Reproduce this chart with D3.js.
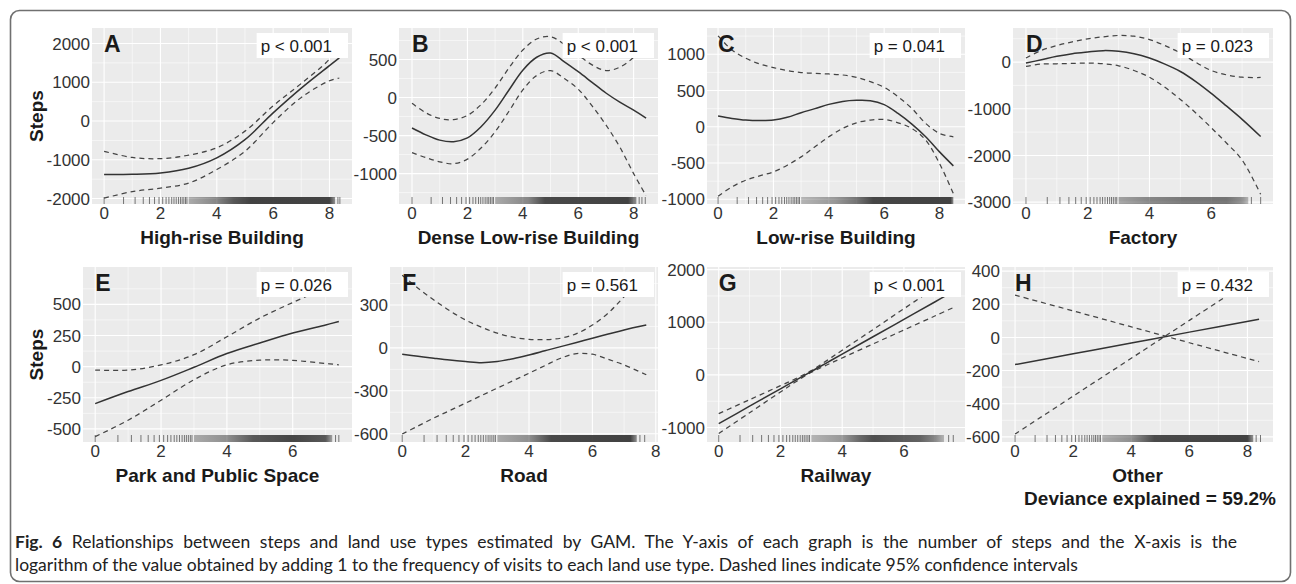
<!DOCTYPE html>
<html lang="en">
<head>
<meta charset="UTF-8">
<title>Fig. 6: steps vs land use (GAM)</title>
<script src="https://d3js.org/d3.v7.min.js"></script>
<style>
  body { margin: 0; background: #fff; }
  svg text { font-family: "Liberation Sans", Arial, sans-serif; }
</style>
</head>
<body>
<svg id="fig" width="1296" height="584"></svg>
<script>
// ---- labels ----
var letters = ["A", "B", "C", "D", "E", "F", "G", "H"];
var xTitles = ["High-rise Building", "Dense Low-rise Building", "Low-rise Building", "Factory",
    "Park and Public Space", "Road", "Railway", "Other"];
var pLabels = ["p < 0.001", "p < 0.001", "p = 0.041", "p = 0.023",
    "p = 0.026", "p = 0.561", "p < 0.001", "p = 0.432"];

// ---- ticks ----
var yTicksA = [-2000, -1000, 0, 1000, 2000], xTicksA = [0, 2, 4, 6, 8];
var yTicksB = [-1000, -500, 0, 500], xTicksB = [0, 2, 4, 6, 8];
var yTicksC = [-1000, -500, 0, 500, 1000], xTicksC = [0, 2, 4, 6, 8];
var yTicksD = [-3000, -2000, -1000, 0], xTicksD = [0, 2, 4, 6];
var yTicksE = [-500, -250, 0, 250, 500], xTicksE = [0, 2, 4, 6];
var yTicksF = [-600, -300, 0, 300], xTicksF = [0, 2, 4, 6, 8];
var yTicksG = [-1000, 0, 1000, 2000], xTicksG = [0, 2, 4, 6];
var yTicksH = [-600, -400, -200, 0, 200, 400], xTicksH = [0, 2, 4, 6, 8];

// ---- axis ranges ----
var xDomA = [-0.43, 8.8], yDomA = [-2140, 2400];
var xDomB = [-0.47, 8.88], yDomB = [-1400, 915];
var xDomC = [-0.4, 8.92], yDomC = [-1065, 1362];
var xDomD = [-0.42, 8.0], yDomD = [-3040, 730];
var xDomE = [-0.37, 7.8], yDomE = [-605, 800];
var xDomF = [-0.385, 8.07], yDomF = [-658, 566];
var xDomG = [-0.38, 7.98], yDomG = [-1275, 2050];
var xDomH = [-0.45, 8.88], yDomH = [-631, 425];

// ---- smooth fits and 95% CI ----
var xA = [0, 1, 2, 3, 4, 5, 6, 7, 8, 8.35];
var fitA = [-1380, -1375, -1340, -1220, -950, -480, 210, 850, 1430, 1630];
var upA = [-780, -940, -970, -880, -690, -260, 390, 970, 1600, 2000];
var loA = [-1990, -1820, -1730, -1600, -1250, -780, -40, 610, 1040, 1110];

var xB = [0, 0.5, 1, 1.5, 2, 2.5, 3, 3.5, 4, 4.5, 5, 5.5, 6, 6.5, 7, 7.5, 8, 8.45];
var fitB = [-400, -490, -560, -580, -530, -380, -165, 100, 360, 530, 585, 470, 340, 200, 60, -60, -165, -270];
var upB = [-75, -200, -275, -290, -235, -90, 125, 390, 625, 770, 800, 700, 560, 430, 355, 400, 530, 740];
var loB = [-725, -790, -845, -870, -810, -660, -450, -180, 100, 290, 355, 250, 110, -110, -360, -650, -1000, -1290];

var xC = [0, 0.5, 1, 1.5, 2, 2.5, 3, 3.5, 4, 4.5, 5, 5.5, 6, 6.5, 7, 7.5, 8, 8.5];
var fitC = [147, 115, 92, 85, 92, 130, 194, 250, 309, 350, 365, 360, 305, 184, 37, -138, -346, -539];
var upC = [1253, 1060, 945, 866, 816, 774, 747, 737, 728, 714, 682, 622, 544, 415, 253, 46, -92, -138];
var loC = [-958, -829, -737, -677, -622, -530, -415, -276, -138, -23, 55, 92, 101, 55, -23, -184, -507, -922];

var xD = [0, 0.5, 1, 1.5, 2, 2.5, 3, 3.5, 4, 4.5, 5, 5.5, 6, 6.5, 7, 7.6];
var fitD = [-22, 50, 123, 180, 216, 245, 231, 180, 87, -43, -202, -418, -670, -945, -1226, -1593];
var upD = [87, 252, 353, 433, 497, 541, 570, 555, 483, 353, 195, -7, -180, -274, -324, -330];
var loD = [-94, -43, -36, -29, -22, -36, -79, -180, -324, -541, -800, -1089, -1406, -1738, -2098, -2833];

var xE = [0, 1, 2, 3, 4, 5, 6, 7, 7.4];
var fitE = [-297, -200, -110, -5, 105, 190, 270, 335, 362];
var upE = [-27, -28, 14, 96, 240, 390, 515, 630, 675];
var loE = [-562, -430, -270, -105, 15, 52, 50, 25, 15];

var xF = [0, 0.5, 1, 1.5, 2, 2.5, 3, 3.5, 4, 4.5, 5, 5.5, 6, 6.5, 7, 7.7];
var fitF = [-44, -58, -72, -85, -95, -103, -95, -75, -49, -20, 9, 38, 68, 97, 126, 160];
var upF = [509, 418, 335, 260, 195, 145, 103, 75, 60, 58, 68, 100, 160, 244, 358, 520];
var loF = [-602, -546, -490, -438, -386, -333, -281, -229, -177, -124, -72, -40, -44, -80, -119, -188];

var xG = [0, 1, 2, 2.5, 3, 3.5, 4, 5, 6, 7, 7.6];
var fitG = [-925, -595, -265, -100, 65, 230, 395, 725, 1055, 1385, 1585];
var upG = [-736, -471, -205, -70, 81, 271, 468, 862, 1257, 1652, 1891];
var loG = [-1114, -719, -325, -130, 49, 189, 322, 588, 853, 1118, 1279];

var xH = [0, 2, 4, 6, 8.4];
var fitH = [-164, -99, -34, 32, 110];
var upH = [255, 160, 64, -32, -146];
var loH = [-583, -354, -126, 103, 377];

// ---- rug: sparse ticks at low values, then density band [x, darkness], then a few tail ticks ----
var rugSparse = [0, 0.69, 1.1, 1.39, 1.61, 1.79, 1.95, 2.08, 2.2, 2.3, 2.4, 2.48, 2.56, 2.64, 2.71, 2.77, 2.83, 2.89, 2.94];
var rugA = [[3.0, 0.35], [4.0, 0.55], [4.6, 0.8], [5.2, 0.92], [8.0, 0.92], [8.2, 0.5]], tailA = [8.3, 8.37];
var rugB = [[3.0, 0.35], [4.2, 0.55], [4.8, 0.88], [7.8, 0.92], [8.1, 0.5]], tailB = [8.2, 8.3, 8.42];
var rugC = [[3.0, 0.3], [4.2, 0.45], [5.0, 0.65], [5.6, 0.9], [8.4, 0.92], [8.5, 0.5]], tailC = [];
var rugD = [[3.0, 0.4], [4.0, 0.55], [5.0, 0.62], [6.5, 0.65], [7.0, 0.5], [7.2, 0.3]], tailD = [7.3, 7.6];
var rugE = [[3.0, 0.35], [4.0, 0.5], [4.8, 0.8], [6.0, 0.9], [7.0, 0.8], [7.2, 0.4]], tailE = [7.3, 7.4];
var rugF = [[3.0, 0.35], [4.0, 0.5], [4.7, 0.88], [7.2, 0.92], [7.4, 0.5]], tailF = [7.5, 7.65];
var rugG = [[3.0, 0.3], [4.0, 0.45], [4.6, 0.72], [5.0, 0.85], [6.5, 0.75], [7.0, 0.55], [7.3, 0.3]], tailG = [7.45, 7.6];
var rugH = [[3.0, 0.35], [4.0, 0.5], [4.8, 0.88], [8.0, 0.92], [8.2, 0.5]], tailH = [8.3, 8.45];

var deviance = "Deviance explained = 59.2%";
var captionBold = "Fig. 6";
var captionLine1 = "Relationships between steps and land use types estimated by GAM. The Y-axis of each graph is the number of steps and the X-axis is the";
var captionLine2 = "logarithm of the value obtained by adding 1 to the frequency of visits to each land use type. Dashed lines indicate 95% confidence intervals";

// panel series table
var series = [
    { x: xA, fit: fitA, up: upA, lo: loA, xd: xDomA, yd: yDomA, xt: xTicksA, yt: yTicksA, rug: rugA, tail: tailA },
    { x: xB, fit: fitB, up: upB, lo: loB, xd: xDomB, yd: yDomB, xt: xTicksB, yt: yTicksB, rug: rugB, tail: tailB },
    { x: xC, fit: fitC, up: upC, lo: loC, xd: xDomC, yd: yDomC, xt: xTicksC, yt: yTicksC, rug: rugC, tail: tailC },
    { x: xD, fit: fitD, up: upD, lo: loD, xd: xDomD, yd: yDomD, xt: xTicksD, yt: yTicksD, rug: rugD, tail: tailD },
    { x: xE, fit: fitE, up: upE, lo: loE, xd: xDomE, yd: yDomE, xt: xTicksE, yt: yTicksE, rug: rugE, tail: tailE },
    { x: xF, fit: fitF, up: upF, lo: loF, xd: xDomF, yd: yDomF, xt: xTicksF, yt: yTicksF, rug: rugF, tail: tailF },
    { x: xG, fit: fitG, up: upG, lo: loG, xd: xDomG, yd: yDomG, xt: xTicksG, yt: yTicksG, rug: rugG, tail: tailG },
    { x: xH, fit: fitH, up: upH, lo: loH, xd: xDomH, yd: yDomH, xt: xTicksH, yt: yTicksH, rug: rugH, tail: tailH }
];

// panel boxes in px: left, top, right, bottom
var layout = [
    [92, 28, 352, 204], [399, 28, 658, 204], [707, 28, 965, 204], [1013, 28, 1273, 204],
    [83, 267, 352, 442], [390, 267, 658, 442], [707, 267, 965, 442], [1002, 267, 1273, 442]
];

var svg = d3.select("#fig");
var defs = svg.append("defs");

// figure frame
svg.append("rect")
    .attr("x", 10.5).attr("y", 10.5)
    .attr("width", 1280).attr("height", 571)
    .attr("rx", 9)
    .attr("fill", "none")
    .attr("stroke", "#707070")
    .attr("stroke-width", 1.6);

function minors(ticks, dom) {
    var step = ticks[1] - ticks[0];
    var out = [];
    for (var t = ticks[0] - step / 2; t <= dom[1]; t += step) {
        if (t >= dom[0]) out.push(t);
    }
    return out;
}

series.forEach(function (p, i) {
    var b = layout[i];
    var x = d3.scaleLinear().domain(p.xd).range([b[0], b[2]]);
    var y = d3.scaleLinear().domain(p.yd).range([b[3], b[1]]);
    var g = svg.append("g");

    defs.append("clipPath").attr("id", "clip" + i)
        .append("rect")
        .attr("x", b[0]).attr("y", b[1])
        .attr("width", b[2] - b[0]).attr("height", b[3] - b[1]);

    // panel background
    g.append("rect")
        .attr("x", b[0]).attr("y", b[1])
        .attr("width", b[2] - b[0]).attr("height", b[3] - b[1])
        .attr("fill", "#EBEBEB");

    // grid (minor then major)
    g.selectAll(".vmin").data(minors(p.xt, p.xd)).enter().append("line")
        .attr("x1", d => x(d)).attr("x2", d => x(d))
        .attr("y1", b[1]).attr("y2", b[3])
        .attr("stroke", "#fff").attr("stroke-width", 0.55);
    g.selectAll(".hmin").data(minors(p.yt, p.yd)).enter().append("line")
        .attr("y1", d => y(d)).attr("y2", d => y(d))
        .attr("x1", b[0]).attr("x2", b[2])
        .attr("stroke", "#fff").attr("stroke-width", 0.55);
    g.selectAll(".vmaj").data(p.xt).enter().append("line")
        .attr("x1", d => x(d)).attr("x2", d => x(d))
        .attr("y1", b[1]).attr("y2", b[3])
        .attr("stroke", "#fff").attr("stroke-width", 1.1);
    g.selectAll(".hmaj").data(p.yt).enter().append("line")
        .attr("y1", d => y(d)).attr("y2", d => y(d))
        .attr("x1", b[0]).attr("x2", b[2])
        .attr("stroke", "#fff").attr("stroke-width", 1.1);

    // rug
    var rugTop = b[3] - 7;
    var first = p.rug[0][0], last = p.rug[p.rug.length - 1][0];
    g.selectAll(".rugs").data(rugSparse.filter(d => d < first).concat(p.tail)).enter().append("line")
        .attr("x1", d => x(d)).attr("x2", d => x(d))
        .attr("y1", rugTop).attr("y2", b[3])
        .attr("stroke", "#555").attr("stroke-width", 0.8);
    var grad = defs.append("linearGradient").attr("id", "rug" + i)
        .attr("gradientUnits", "userSpaceOnUse")
        .attr("x1", x(first)).attr("x2", x(last)).attr("y1", 0).attr("y2", 0);
    p.rug.forEach(function (s) {
        grad.append("stop")
            .attr("offset", (x(s[0]) - x(first)) / (x(last) - x(first)))
            .attr("stop-color", "#333")
            .attr("stop-opacity", s[1]);
    });
    g.append("rect")
        .attr("x", x(first)).attr("y", rugTop)
        .attr("width", x(last) - x(first)).attr("height", 7)
        .attr("fill", "url(#rug" + i + ")");

    // curves
    var line = d3.line()
        .x((d, k) => x(p.x[k]))
        .y(d => y(d))
        .curve(d3.curveCatmullRom.alpha(0.5));
    var lines = g.append("g").attr("clip-path", "url(#clip" + i + ")");
    [p.up, p.lo].forEach(function (arr) {
        lines.append("path")
            .attr("d", line(arr))
            .attr("fill", "none")
            .attr("stroke", "#444")
            .attr("stroke-width", 1.25)
            .attr("stroke-dasharray", "5,4");
    });
    lines.append("path")
        .attr("d", line(p.fit))
        .attr("fill", "none")
        .attr("stroke", "#333")
        .attr("stroke-width", 1.5);

    // p-value label
    var pt = g.append("text")
        .attr("font-size", 17)
        .attr("fill", "#1a1a1a")
        .text(pLabels[i]);
    var tw = pt.node().getComputedTextLength();
    var bw = tw + 20, bx = b[2] - 4 - bw, by = b[1] + 5;
    g.insert("rect", "text")
        .attr("x", bx).attr("y", by)
        .attr("width", bw).attr("height", 25)
        .attr("fill", "#fff");
    pt.attr("x", bx + 4).attr("y", by + 19);

    // panel letter
    g.append("text")
        .attr("x", x(0)).attr("y", b[1] + 24)
        .attr("font-size", 23).attr("font-weight", "bold")
        .attr("fill", "#1a1a1a")
        .text(letters[i]);

    // axis tick labels
    g.selectAll(".yl").data(p.yt).enter().append("text")
        .attr("x", b[0] - 2).attr("y", d => y(d))
        .attr("dy", "0.36em")
        .attr("text-anchor", "end")
        .attr("font-size", 17).attr("fill", "#333")
        .text(d => d);
    g.selectAll(".xl").data(p.xt).enter().append("text")
        .attr("x", d => x(d)).attr("y", b[3] + 15)
        .attr("text-anchor", "middle")
        .attr("font-size", 17).attr("fill", "#333")
        .text(d => d);

    // axis titles
    g.append("text")
        .attr("x", (b[0] + b[2]) / 2).attr("y", b[3] + 40)
        .attr("text-anchor", "middle")
        .attr("font-size", 19).attr("font-weight", "bold").attr("fill", "#1a1a1a")
        .text(xTitles[i]);
    if (i % 4 === 0) {
        g.append("text")
            .attr("transform", "translate(43," + ((b[1] + b[3]) / 2) + ") rotate(-90)")
            .attr("text-anchor", "middle")
            .attr("font-size", 19).attr("font-weight", "bold").attr("fill", "#1a1a1a")
            .text("Steps");
    }
});

svg.append("text")
    .attr("x", 1276).attr("y", 505)
    .attr("text-anchor", "end")
    .attr("font-size", 19).attr("font-weight", "bold").attr("fill", "#1a1a1a")
    .text(deviance);

// caption: last line at natural width, first line justified
var cap1 = svg.append("text").attr("x", 15).attr("y", 548)
    .style("font-family", "Lato, 'Open Sans', sans-serif")
    .attr("font-size", 18).attr("fill", "#222");
cap1.append("tspan").attr("font-weight", "bold").text(captionBold);
cap1.append("tspan").text(" " + captionLine1);
var cap2 = svg.append("text").attr("x", 15).attr("y", 571)
    .style("font-family", "Lato, 'Open Sans', sans-serif")
    .attr("font-size", 18).attr("fill", "#222")
    .text(captionLine2);
var fs = 18 * 1063 / cap2.node().getComputedTextLength();
cap1.attr("font-size", fs);
cap2.attr("font-size", fs);
var w1 = cap1.node().getComputedTextLength();
var gaps = (captionBold + " " + captionLine1).split(" ").length - 1;
cap1.style("word-spacing", ((1222 - w1) / gaps) + "px");
</script>
</body>
</html>
